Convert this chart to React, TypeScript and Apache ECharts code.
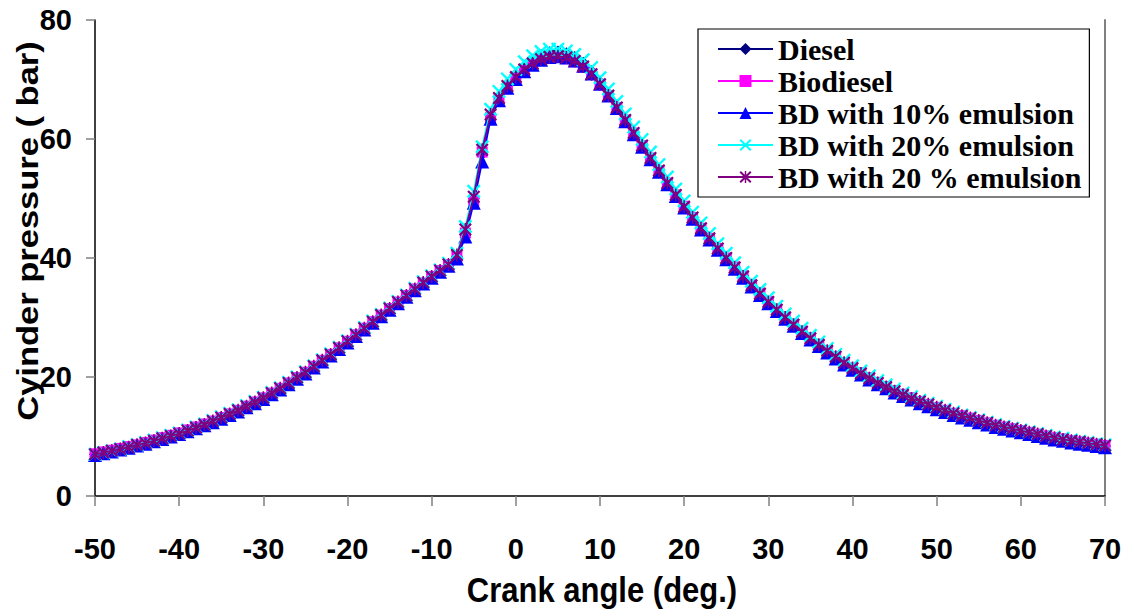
import React, { useEffect, useRef } from "react";
import * as echarts from "echarts";

const angles = [
  -50, -49, -48, -47, -46, -45, -44, -43, -42, -41,
  -40, -39, -38, -37, -36, -35, -34, -33, -32, -31,
  -30, -29, -28, -27, -26, -25, -24, -23, -22, -21,
  -20, -19, -18, -17, -16, -15, -14, -13, -12, -11,
  -10, -9, -8, -7, -6, -5, -4, -3, -2, -1,
  0, 1, 2, 3, 4, 5, 6, 7, 8, 9,
  10, 11, 12, 13, 14, 15, 16, 17, 18, 19,
  20, 21, 22, 23, 24, 25, 26, 27, 28, 29,
  30, 31, 32, 33, 34, 35, 36, 37, 38, 39,
  40, 41, 42, 43, 44, 45, 46, 47, 48, 49,
  50, 51, 52, 53, 54, 55, 56, 57, 58, 59,
  60, 61, 62, 63, 64, 65, 66, 67, 68, 69,
  70,
];

const diesel = [
  7.0, 7.3, 7.6, 7.9, 8.2, 8.6, 8.9, 9.3, 9.7, 10.1,
  10.5, 11.0, 11.5, 12.0, 12.5, 13.1, 13.7, 14.3, 15.0, 15.7,
  16.4, 17.2, 18.0, 18.9, 19.8, 20.7, 21.7, 22.7, 23.7, 24.8,
  25.9, 27.0, 28.1, 29.2, 30.3, 31.4, 32.5, 33.6, 34.7, 35.8,
  36.8, 37.8, 38.8, 40.2, 44.5, 50.0, 57.5, 64.0, 67.0, 69.2,
  70.8, 72.2, 73.3, 74.1, 74.6, 74.7, 74.4, 73.8, 72.8, 71.4,
  69.6, 67.6, 65.5, 63.3, 61.1, 59.0, 56.9, 54.8, 52.7, 50.7,
  48.8, 46.9, 45.1, 43.4, 41.7, 40.1, 38.5, 37.0, 35.5, 34.0,
  32.6, 31.3, 30.0, 28.8, 27.6, 26.5, 25.4, 24.3, 23.3, 22.3,
  21.4, 20.6, 19.8, 19.0, 18.3, 17.6, 17.0, 16.4, 15.8, 15.3,
  14.8, 14.3, 13.8, 13.4, 13.0, 12.6, 12.2, 11.8, 11.5, 11.2,
  10.9, 10.6, 10.3, 10.0, 9.7, 9.5, 9.2, 9.0, 8.8, 8.6,
  8.4,
];

const biodiesel = [
  7.1, 7.4, 7.7, 8.0, 8.3, 8.6, 9.0, 9.4, 9.8, 10.2,
  10.6, 11.1, 11.6, 12.1, 12.6, 13.2, 13.8, 14.4, 15.1, 15.8,
  16.5, 17.3, 18.1, 19.0, 19.9, 20.8, 21.8, 22.8, 23.8, 24.9,
  26.0, 27.1, 28.2, 29.3, 30.4, 31.5, 32.6, 33.7, 34.8, 35.8,
  36.9, 37.9, 38.9, 40.3, 44.2, 49.6, 57.8, 63.6, 66.6, 68.6,
  70.2, 71.5, 72.5, 73.2, 73.6, 73.7, 73.5, 73.0, 72.1, 70.9,
  69.2, 67.3, 65.3, 63.2, 61.0, 58.9, 56.8, 54.7, 52.6, 50.6,
  48.7, 46.8, 45.0, 43.3, 41.6, 40.0, 38.5, 37.0, 35.5, 34.1,
  32.7, 31.4, 30.1, 28.9, 27.7, 26.6, 25.5, 24.4, 23.4, 22.4,
  21.5, 20.7, 19.9, 19.1, 18.4, 17.7, 17.1, 16.5, 15.9, 15.4,
  14.9, 14.4, 13.9, 13.5, 13.1, 12.7, 12.3, 11.9, 11.6, 11.3,
  11.0, 10.7, 10.4, 10.1, 9.8, 9.6, 9.3, 9.1, 8.9, 8.7,
  8.5,
];

const bd10 = [
  6.9, 7.2, 7.5, 7.8, 8.1, 8.5, 8.8, 9.2, 9.6, 10.0,
  10.4, 10.9, 11.4, 11.9, 12.4, 13.0, 13.6, 14.2, 14.9, 15.6,
  16.3, 17.1, 17.9, 18.8, 19.7, 20.6, 21.6, 22.6, 23.6, 24.7,
  25.8, 26.9, 28.0, 29.1, 30.2, 31.3, 32.4, 33.5, 34.6, 35.7,
  36.7, 37.7, 38.7, 39.9, 43.6, 49.3, 56.2, 63.4, 66.5, 68.6,
  70.1, 71.4, 72.5, 73.3, 73.8, 73.9, 73.7, 73.2, 72.3, 71.0,
  69.3, 67.3, 65.2, 63.0, 60.8, 58.7, 56.6, 54.5, 52.4, 50.4,
  48.5, 46.6, 44.8, 43.1, 41.4, 39.8, 38.2, 36.7, 35.2, 33.8,
  32.4, 31.1, 29.8, 28.6, 27.4, 26.3, 25.2, 24.1, 23.1, 22.1,
  21.2, 20.4, 19.6, 18.8, 18.1, 17.4, 16.8, 16.2, 15.6, 15.1,
  14.6, 14.1, 13.6, 13.2, 12.8, 12.4, 12.0, 11.6, 11.3, 11.0,
  10.7, 10.4, 10.1, 9.8, 9.5, 9.3, 9.0, 8.8, 8.6, 8.4,
  8.2,
];

const bd20 = [
  7.0, 7.3, 7.6, 7.9, 8.3, 8.6, 9.0, 9.4, 9.8, 10.2,
  10.6, 11.1, 11.6, 12.1, 12.7, 13.3, 13.9, 14.5, 15.2, 15.9,
  16.6, 17.4, 18.2, 19.1, 20.0, 20.9, 21.9, 22.9, 23.9, 25.0,
  26.1, 27.2, 28.3, 29.4, 30.5, 31.6, 32.7, 33.8, 34.9, 36.0,
  37.0, 38.0, 39.1, 40.8, 45.3, 51.2, 58.7, 65.0, 68.0, 70.1,
  71.7, 73.0, 74.0, 74.7, 75.1, 75.1, 74.8, 74.2, 73.3, 72.0,
  70.3, 68.4, 66.3, 64.2, 62.0, 59.9, 57.8, 55.7, 53.6, 51.6,
  49.6, 47.7, 45.9, 44.1, 42.4, 40.8, 39.2, 37.6, 36.1, 34.7,
  33.3, 31.9, 30.6, 29.4, 28.2, 27.0, 25.9, 24.8, 23.8, 22.8,
  21.9, 21.0, 20.2, 19.4, 18.7, 18.0, 17.3, 16.7, 16.1, 15.6,
  15.1, 14.6, 14.1, 13.6, 13.2, 12.8, 12.4, 12.0, 11.7, 11.4,
  11.1, 10.8, 10.5, 10.2, 9.9, 9.7, 9.4, 9.2, 9.0, 8.8,
  8.6,
];

const bd20b = [
  7.0, 7.3, 7.6, 7.9, 8.2, 8.6, 8.9, 9.3, 9.7, 10.1,
  10.5, 11.0, 11.5, 12.0, 12.6, 13.2, 13.8, 14.4, 15.1, 15.8,
  16.5, 17.3, 18.1, 19.0, 19.9, 20.8, 21.8, 22.8, 23.8, 24.9,
  26.0, 27.1, 28.2, 29.3, 30.4, 31.5, 32.6, 33.7, 34.8, 35.9,
  36.9, 37.9, 38.9, 40.5, 44.8, 50.3, 58.2, 64.1, 66.9, 68.9,
  70.4, 71.7, 72.7, 73.4, 73.8, 73.9, 73.7, 73.1, 72.2, 70.9,
  69.2, 67.3, 65.3, 63.2, 61.0, 58.9, 56.8, 54.7, 52.6, 50.6,
  48.6, 46.8, 45.0, 43.3, 41.6, 40.0, 38.4, 36.9, 35.4, 34.0,
  32.6, 31.3, 30.0, 28.8, 27.6, 26.5, 25.4, 24.4, 23.4, 22.4,
  21.5, 20.6, 19.8, 19.0, 18.3, 17.6, 17.0, 16.4, 15.9, 15.4,
  14.9, 14.4, 13.9, 13.5, 13.1, 12.7, 12.3, 11.9, 11.6, 11.3,
  11.0, 10.7, 10.4, 10.1, 9.8, 9.5, 9.3, 9.1, 8.9, 8.7,
  8.5,
];

const seriesNames = [
  "Diesel",
  "Biodiesel",
  "BD with 10% emulsion",
  "BD with 20% emulsion",
  "BD with 20 % emulsion",
];
const seriesColors = ["#000080", "#FF00FF", "#0000FF", "#00FFFF", "#800080"];

const X_PATH =
  "path://M0,1.2L1.2,0L5,3.8L8.8,0L10,1.2L6.2,5L10,8.8L8.8,10L5,6.2L1.2,10L0,8.8L3.8,5Z";
const STAR_PATH =
  "path://M0,1.2L1.2,0L5,3.8L8.8,0L10,1.2L6.2,5L10,8.8L8.8,10L5,6.2L1.2,10L0,8.8L3.8,5Z M4.4,0L5.6,0L5.6,10L4.4,10Z";

const seriesSymbols = ["diamond", "rect", "triangle", X_PATH, STAR_PATH];
const seriesSymbolSizes = [12, 11, 14, 14, 13];

export default function App() {
  const ref = useRef<HTMLDivElement>(null);

  useEffect(() => {
    if (!ref.current) return;
    const chart = echarts.init(ref.current, null, { renderer: "svg" });
    const values = [diesel, biodiesel, bd10, bd20, bd20b];
    const axisFont = "'Liberation Sans', Arial, sans-serif";

    chart.setOption({
      animation: false,
      backgroundColor: "#ffffff",
      grid: { left: 95, top: 20, right: 23, bottom: 116, containLabel: false },
      xAxis: {
        type: "value",
        min: -50,
        max: 70,
        interval: 10,
        axisLine: { show: true, onZero: false, lineStyle: { color: "#000", width: 1.5 } },
        axisTick: { show: true, inside: false, length: 10, lineStyle: { color: "#808080", width: 1.5 } },
        axisLabel: {
          color: "#000",
          fontFamily: axisFont,
          fontWeight: "bold",
          fontSize: 29,
          margin: 38,
        },
        splitLine: { show: false },
      },
      yAxis: [
        {
          type: "value",
          min: 0,
          max: 80,
          interval: 20,
          axisLine: { show: true, onZero: false, lineStyle: { color: "#000", width: 1.5 } },
          axisTick: { show: true, inside: false, length: 9, lineStyle: { color: "#808080", width: 1.5 } },
          axisLabel: {
            color: "#000",
            fontFamily: axisFont,
            fontWeight: "bold",
            fontSize: 29,
            margin: 23,
          },
          splitLine: { show: false },
        },
        {
          type: "value",
          position: "right",
          min: 0,
          max: 80,
          interval: 20,
          axisLine: { show: true, onZero: false, lineStyle: { color: "#808080", width: 2 } },
          axisTick: { show: false },
          axisLabel: { show: false },
          splitLine: { show: false },
        },
      ],
      legend: {
        orient: "vertical",
        left: 698,
        top: 29,
        backgroundColor: "#ffffff",
        borderColor: "#000",
        borderWidth: 1.2,
        borderRadius: 0,
        padding: [5, 8, 5, 19],
        itemGap: 2,
        itemWidth: 55,
        itemHeight: 15,
        textStyle: {
          fontFamily: "'Liberation Serif', 'Times New Roman', serif",
          fontWeight: "bold",
          fontSize: 30,
          lineHeight: 30,
          color: "#000",
        },
        data: seriesNames,
      },
      graphic: [
        {
          type: "text",
          x: 28,
          y: 231,
          rotation: Math.PI / 2,
          scaleX: 1.19,
          style: {
            text: "Cyinder pressure ( bar)",
            fontFamily: axisFont,
            fontWeight: "bold",
            fontSize: 29,
            fill: "#000",
            textAlign: "center",
            textVerticalAlign: "middle",
          },
        },
        {
          type: "text",
          x: 602,
          y: 590,
          scaleY: 1.15,
          style: {
            text: "Crank angle (deg.)",
            fontFamily: axisFont,
            fontWeight: "bold",
            fontSize: 31,
            fill: "#000",
            textAlign: "center",
            textVerticalAlign: "middle",
          },
        },
      ],
      series: values.map((arr, i) => ({
        name: seriesNames[i],
        type: "line",
        yAxisIndex: 0,
        data: angles.map((a, j) => [a, arr[j]]),
        symbol: seriesSymbols[i],
        symbolSize: seriesSymbolSizes[i],
        showSymbol: true,
        lineStyle: { color: seriesColors[i], width: 1.8 },
        itemStyle: { color: seriesColors[i], borderWidth: 0 },
        z: 2 + i,
      })),
    });

    return () => chart.dispose();
  }, []);

  return (
    <div
      ref={ref}
      style={{ position: "absolute", left: 0, top: 0, width: 1128, height: 612, background: "#fff" }}
    />
  );
}
